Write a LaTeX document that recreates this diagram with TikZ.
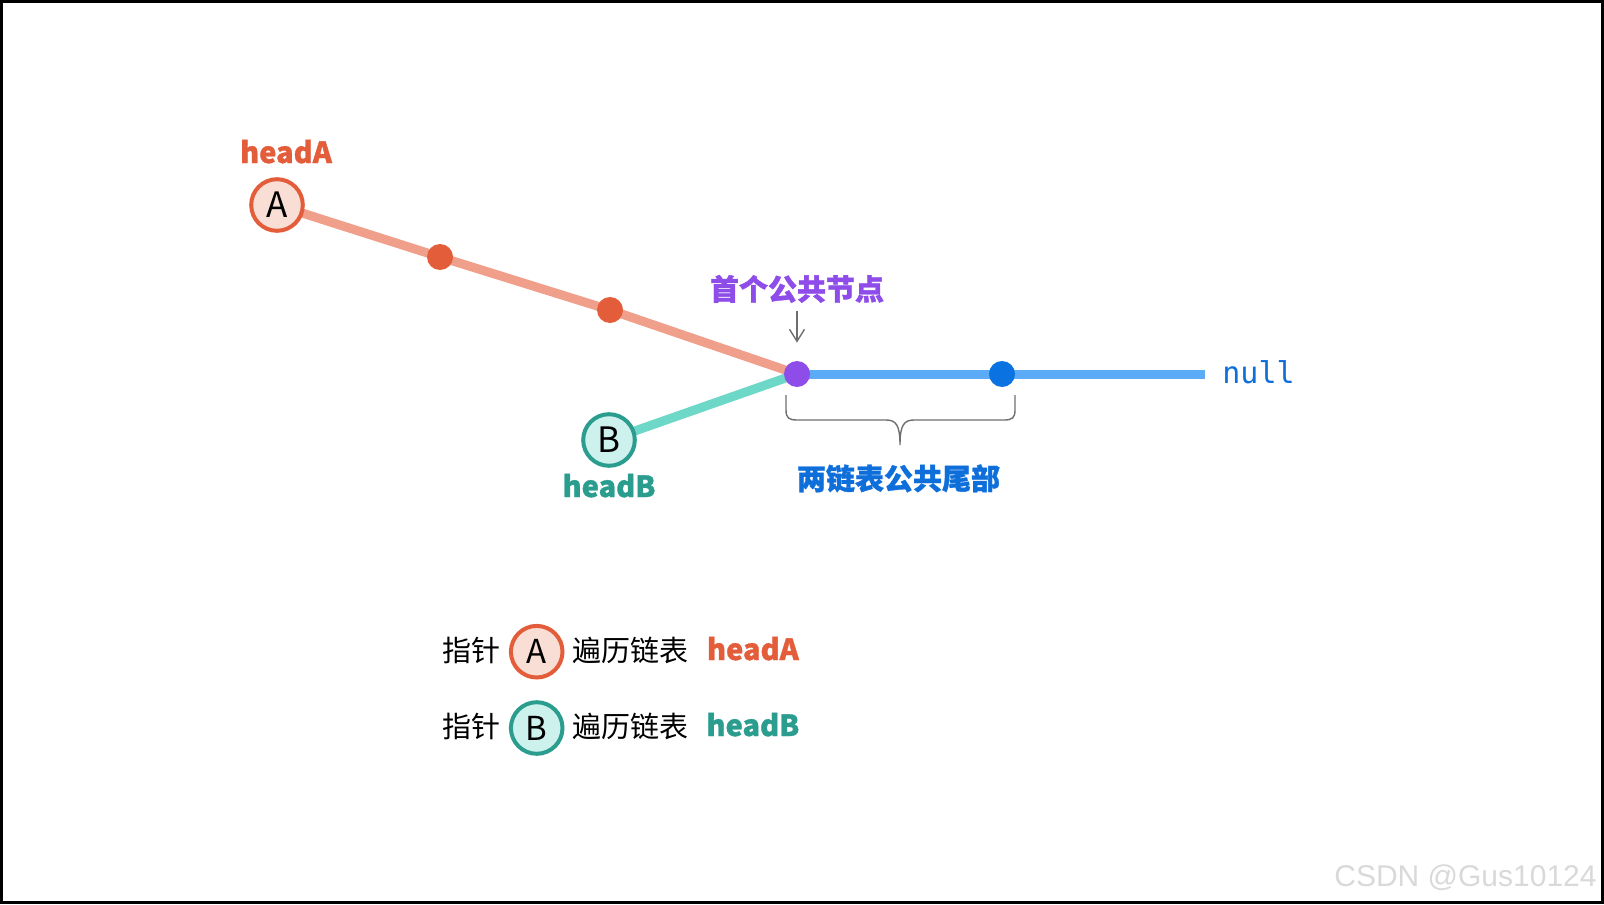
\documentclass[tikz,border=0pt]{standalone}
\usepackage{fontspec}
\setmainfont{Noto Sans CJK SC}[BoldFeatures={FakeBold=1.2}]
\setmonofont{DejaVu Sans Mono}
\newfontfamily\wmfont{Liberation Sans}
\usetikzlibrary{arrows.meta,backgrounds}
\definecolor{ocol}{HTML}{E35D3B}
\definecolor{oline}{HTML}{F09F8B}
\definecolor{ofill}{HTML}{F9DED6}
\definecolor{tcol}{HTML}{2A9D8E}
\definecolor{tline}{HTML}{6DD8C7}
\definecolor{tfill}{HTML}{CDF1EC}
\definecolor{pcol}{HTML}{8E4CE9}
\definecolor{bline}{HTML}{5BABF7}
\definecolor{bdot}{HTML}{0B72E1}
\definecolor{btext}{HTML}{0E6FDB}
\definecolor{gcol}{HTML}{6E6E6E}
\definecolor{wmcol}{HTML}{D9D9D9}
\begin{document}
\begin{tikzpicture}[x=0.5pt,y=-0.5pt,
  ptr/.style={circle, line width=2pt, minimum size=25.8pt, inner sep=0pt},
  ptrA/.style={ptr, draw=ocol, fill=ofill},
  ptrB/.style={ptr, draw=tcol, fill=tfill},
  bigletter/.style={font=\fontsize{17.5}{18}\selectfont},
  legletter/.style={font=\fontsize{16.5}{17}\selectfont},
  dot/.style={circle, inner sep=0pt, minimum size=13pt},
  link/.style={line width=4.5pt},
  cjk/.style={font=\fontsize{14.5}{15}\selectfont, inner sep=0pt, anchor=base},
  cjkb/.style={font=\fontsize{14.5}{15}\selectfont\bfseries, inner sep=0pt, anchor=base},
  lab/.style={font=\fontsize{14.5}{15}\selectfont\bfseries, inner sep=0pt, anchor=base},
  gline/.style={draw=gcol, line width=0.7pt}
]
\useasboundingbox (0,0) rectangle (1604,904);
\draw[line width=1.5pt, black] (1.5,1.5) rectangle (1602.5,902.5);

% nodes
\node[ptrA, bigletter] (A) at (277,205) {A};
\node[ptrB, bigletter] (B) at (609,440) {B};
\node[dot, fill=ocol] (d1) at (440,257) {};
\node[dot, fill=ocol] (d2) at (610,310) {};
\node[dot, fill=pcol] (P) at (797,374) {};
\node[dot, fill=bdot] (Q) at (1002,374) {};
\coordinate (E) at (1205,374);

\begin{scope}[on background layer]
\draw[link, draw=oline] (A.center) -- (d1.center) -- (d2.center) -- (P.center);
\draw[link, draw=tline] (B.center) -- (P.center);
\draw[link, draw=bline] (P.center) -- (Q.center) -- (E);
\end{scope}

% labels
\node[lab, text=ocol] (la) at (286,163) {headA};
\node[lab, text=tcol] (lb) at (609,497) {headB};
\node[cjkb, text=pcol] (t1) at (797,300) {首个公共节点};
\node[inner sep=0pt, anchor=base west, font=\ttfamily\fontsize{15}{15}\selectfont, text=btext] (nl) at (1222,383) {null};
\node[cjkb, text=btext] (t2) at (898.5,489.5) {两链表公共尾部};

\draw[gline, -{Straight Barb[length=6pt,width=7.5pt]}, shorten <=4pt, shorten >=9pt] (t1.south) -- (P.north);

% brace
\draw[gline] (786,395) -- (786,410) .. controls (786,418) and (789,420) .. (797,420)
  -- (886,420) .. controls (896,420) and (900,425) .. (900,445)
  .. controls (900,425) and (904,420) .. (914,420)
  -- (1004,420) .. controls (1012,420) and (1015,418) .. (1015,410) -- (1015,395);

% legend
\node[cjk] (g1) at (471.4,661) {指针};
\node[ptrA, legletter] (LA) at (536.7,651.7) {A};
\node[cjk] (g2) at (630.5,661) {遍历链表};
\node[lab, text=ocol] (g3) at (752.9,660) {headA};

\node[cjk] (h1) at (471.4,737) {指针};
\node[ptrB, legletter] (LB) at (536.7,728) {B};
\node[cjk] (h2) at (630.5,737) {遍历链表};
\node[lab, text=tcol] (h3) at (752.9,736) {headB};

\node[inner sep=0pt, anchor=base east, text=wmcol, font=\wmfont\fontsize{15}{16}\selectfont] (wm) at (1597,886) {CSDN @Gus10124};
\end{tikzpicture}
\end{document}
